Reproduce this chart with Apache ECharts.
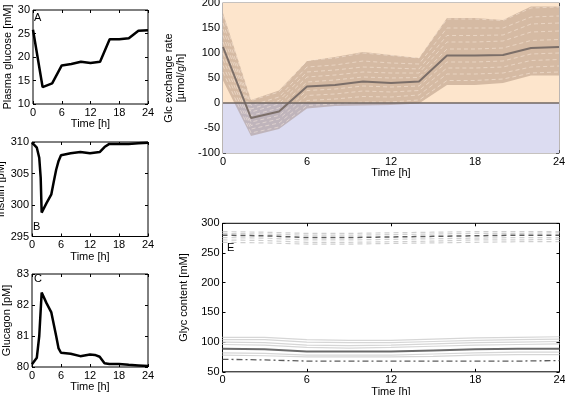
<!DOCTYPE html>
<html><head><meta charset="utf-8">
<script src="https://cdn.jsdelivr.net/npm/echarts@6/dist/echarts.min.js"></script>
<style>html,body{margin:0;padding:0;background:#fff}#c{width:565px;height:395px}</style>
</head><body><div id="c"></div>
<script>
// ---- Panel A: plasma glucose ----
const glucoseHours = [0,2,4,6,8,10,12,14,16,18,20,22,24];
const glucoseValues = [25.8,13.6,14.4,18.2,18.5,19.0,18.7,19.0,23.8,23.8,24.0,25.6,25.7];
// ---- Panel B: insulin ----
const insulinHours = [0,1,1.5,1.8,2,3,4,4.5,5,5.5,6,8,10,12,14,15,16,18,20,22,24];
const insulinValues = [309.9,309.1,307.5,304.3,298.8,300.3,301.7,303.7,305.6,307.0,307.9,308.2,308.4,308.2,308.4,309.2,309.7,309.7,309.7,309.8,309.9];
// ---- Panel C: glucagon ----
const glucagonHours = [0,1,1.5,2,3,4,5,5.5,6,8,10,12,13,14,15,16,18,20,22,24];
const glucagonValues = [80.09,80.3,81.0,82.4,82.06,81.76,81.0,80.6,80.46,80.43,80.35,80.4,80.39,80.33,80.12,80.1,80.1,80.07,80.05,80.03];
// ---- Panel D: Glc exchange rate ----
const dHours = [0,2,4,6,8,10,12,14,16,18,20,22,24];
const dMean = [112,-30,-17,33,36,43,40,43,95,95,96,110,112];
const dUpper = [180,6,25,84,92,102,96,90,170,170,166,193,193];
const dLower = [45,-66,-52,-11,-6,-5,-4,-1,36,36,40,55,55];
const dEnsemble = [
  [175,5,22,85,90,100,95,90,168,168,165,190,192],
  [160,-5,12,72,76,84,80,78,150,150,150,172,174],
  [148,-12,5,62,66,72,70,68,135,135,136,158,160],
  [135,-18,-2,52,56,62,60,60,122,122,124,142,144],
  [122,-25,-10,42,46,52,50,51,108,108,110,125,127],
  [100,-38,-25,25,28,34,32,34,82,82,84,98,100],
  [88,-45,-32,15,18,24,22,25,70,70,72,85,87],
  [75,-52,-40,5,8,13,12,16,58,58,60,72,74],
  [62,-60,-48,-5,-2,2,2,6,45,45,48,60,62]
];
// ---- Panel E: glycogen content ----
const eHours = [0,3,6,9,12,15,18,21,24];
const eTopMean = [280,279,276,276,277,278,279,280,280];
const eTopLines = [
  [286,285,283,283,284,285,286,286,286],
  [283,282,280,280,281,282,283,283,284],
  [276,275,272,272,273,274,275,276,276],
  [272,271,268,268,269,270,272,272,273],
  [268,267,265,265,266,267,268,269,269]
];
const eBottomLines = [
  [108,108,104,103,103,105,107,108,109],
  [104,104,100,99,99,101,103,104,105],
  [100,99,95,94,95,97,99,100,101],
  [96,95,91,90,91,93,95,96,97],
  [82,81,78,78,78,80,82,83,83],
  [78,77,75,75,75,76,78,79,79]
];
const eMean = [89,88,84,84,84,86,88,89,89];
const eLow = [71,70,68,68,68,68,68,68,69];
// ---- ticks ----
const timeTicks = [0,6,12,18,24];

const FONT = 'Liberation Sans';
const pair = (xs, ys) => xs.map((x, i) => [x, ys[i]]);

const grids = [
  {left:33, top:10, width:115, height:94},
  {left:32, top:142, width:116, height:94.5},
  {left:32, top:274, width:116, height:93},
  {left:223, top:3, width:336, height:150},
  {left:222.5, top:223.3, width:337, height:148.5}
].map(g => Object.assign({show:true, borderColor:'#000', borderWidth:1, backgroundColor:'transparent', containLabel:false, outerBoundsMode:'none'}, g));
grids[3].borderColor = '#8e8580';
grids[3].borderWidth = 1.2;

const xAxes = [], yAxes = [];
function axes(gi, ymin, ymax, yint, yname, yGap, xGap, tickColor) {
  const lab = {fontFamily:FONT, fontSize:11, color:'#000', margin:3};
  xAxes.push({gridIndex:gi, type:'value', min:0, max:24, interval:6, position:'bottom',
    axisLine:{show:false, onZero:false}, axisTick:{inside:true, length:3, lineStyle:{color:tickColor}},
    axisLabel:lab, splitLine:{show:false}, name:'Time [h]', nameLocation:'middle', nameGap:xGap,
    nameTextStyle:{fontFamily:FONT, fontSize:11, color:'#000'}});
  xAxes.push({gridIndex:gi, type:'value', min:0, max:24, interval:6, position:'top',
    axisLine:{show:false, onZero:false}, axisTick:{inside:true, length:3, lineStyle:{color:tickColor}},
    axisLabel:{show:false}, splitLine:{show:false}});
  yAxes.push({gridIndex:gi, type:'value', min:ymin, max:ymax, interval:yint, position:'left',
    axisLine:{show:false, onZero:false}, axisTick:{inside:true, length:3, lineStyle:{color:tickColor}},
    axisLabel:lab, splitLine:{show:false}, name:yname, nameLocation:'middle', nameGap:yGap,
    nameTextStyle:{fontFamily:FONT, fontSize:11, color:'#000', lineHeight:12}});
  yAxes.push({gridIndex:gi, type:'value', min:ymin, max:ymax, interval:yint, position:'right',
    axisLine:{show:false, onZero:false}, axisTick:{inside:true, length:3, lineStyle:{color:tickColor}},
    axisLabel:{show:false}, splitLine:{show:false}});
}
axes(0, 10, 30, 5, 'Plasma glucose [mM]', 19, 12, '#000');
axes(1, 295, 310, 5, 'Insulin [pM]', 22, 12, '#000');
axes(2, 80, 83, 1, 'Glucagon [pM]', 18, 12, '#000');
axes(3, -100, 200, 50, 'Glc exchange rate\n[µmol/g/h]', 20, 14, '#555');
axes(4, 50, 300, 50, 'Glyc content [mM]', 24, 10, '#000');

const series = [];
function line(gi, data, style, z) {
  series.push({type:'line', xAxisIndex:gi*2, yAxisIndex:gi*2, data:data, symbol:'none',
    lineStyle:style, z:z || 2, silent:true, animation:false});
}
line(0, pair(glucoseHours, glucoseValues), {color:'#000', width:2.5});
line(1, pair(insulinHours, insulinValues), {color:'#000', width:2.5});
line(2, pair(glucagonHours, glucagonValues), {color:'#000', width:2.5});

// Panel D backgrounds
series.push({type:'line', xAxisIndex:6, yAxisIndex:6, data:[], symbol:'none', z:0, silent:true, animation:false,
  markArea:{silent:true, data:[
    [{yAxis:0, itemStyle:{color:'#fde5cc'}}, {yAxis:200}],
    [{yAxis:-100, itemStyle:{color:'#dcdcf1'}}, {yAxis:0}]
  ]}});
// Panel D ensemble band
series.push({type:'custom', xAxisIndex:6, yAxisIndex:6, data:[[0,0]], z:1, silent:true, animation:false,
  renderItem: function(params, api) {
    const pts = dHours.map((h, i) => api.coord([h, dUpper[i]]));
    for (let i = dHours.length - 1; i >= 0; i--) pts.push(api.coord([dHours[i], dLower[i]]));
    return {type:'polygon', shape:{points:pts}, style:{fill:'rgba(140,112,92,0.36)'}};
  }});
dEnsemble.forEach(vals => line(3, pair(dHours, vals), {color:'rgba(255,240,228,0.6)', width:0.8, type:[4,3]}, 2));
line(3, pair(dHours, dMean), {color:'#7b6e68', width:2}, 4);
series.push({type:'line', xAxisIndex:6, yAxisIndex:6, data:[], symbol:'none', z:5, silent:true, animation:false,
  markLine:{silent:true, symbol:'none', label:{show:false}, lineStyle:{color:'#6f6662', width:1.5, type:'solid'},
    data:[{yAxis:0}]}});

// Panel E
eTopLines.forEach(vals => line(4, pair(eHours, vals), {color:'#cfcfcf', width:1.2, type:[5,4]}, 1));
line(4, pair(eHours, eTopMean), {color:'#5c5c5c', width:1.5, type:[5,4]}, 3);
eBottomLines.forEach(vals => line(4, pair(eHours, vals), {color:'#d6d6d6', width:1.2}, 1));
line(4, pair(eHours, eMean), {color:'#6a6a6a', width:2}, 3);
line(4, pair(eHours, eLow), {color:'#5c5c5c', width:1.3, type:[6,3,2,3]}, 3);

const letters = [['A',38,18],['B',37,227],['C',38,279],['D',230,11],['E',231,248]];
const option = {
  animation:false,
  grid: grids, xAxis: xAxes, yAxis: yAxes, series: series,
  graphic: letters.map(l => ({type:'text', left:l[1]-4, top:l[2]-6, silent:true,
    style:{text:l[0], fontFamily:FONT, fontSize:11, fill:'#000'}}))
};
const chart = echarts.init(document.getElementById('c'), null, {renderer:'canvas'});
chart.setOption(option);
</script></body></html>
